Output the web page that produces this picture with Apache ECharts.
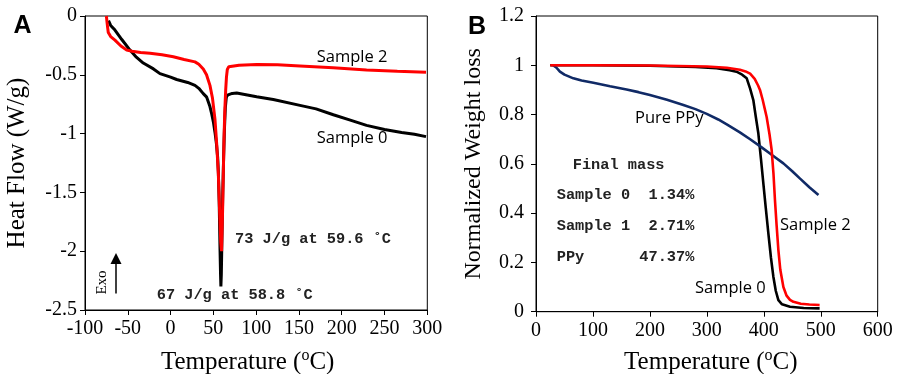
<!DOCTYPE html>
<html><head><meta charset="utf-8">
<script src="https://cdn.jsdelivr.net/npm/echarts@6/dist/echarts.min.js"></script>
<style>html,body{margin:0;padding:0;background:#fff}#c{width:899px;height:374px}</style>
</head><body><div id="c"></div>
<script>
// Panel A: DSC
const dscTemp0 = [-72.5,-70,-65,-57,-47.4,-40,-31.9,-20,-12.4,0,7.1,20,28.5,33,38.2,42.2,46,48,50,51.9,53.5,55,55.8,56.8,57.8,58.4,58.8,59.3,60,61,62,63,64,65,65.6,68,72,77.3,85,100.6,120,151.2,170,190.2,210,229,250,270,285,298.5];
const dscFlow0 = [-0.04,-0.08,-0.12,-0.2,-0.29,-0.35,-0.40,-0.45,-0.49,-0.52,-0.54,-0.565,-0.59,-0.615,-0.66,-0.69,-0.77,-0.83,-0.9,-0.99,-1.08,-1.2,-1.32,-1.58,-1.99,-2.2,-2.30,-2.2,-1.9,-1.5,-1.2,-0.95,-0.78,-0.70,-0.68,-0.668,-0.658,-0.655,-0.665,-0.686,-0.71,-0.76,-0.79,-0.84,-0.885,-0.93,-0.965,-0.99,-1.005,-1.026];
const dscTemp2 = [-75,-74.3,-73.5,-72.8,-70,-65,-58,-51.3,-45,-35,-24,-10,3.2,15.8,28.5,33,38.2,42,46,49,51.9,54,55.8,57,57.8,58.6,59.6,60.3,60.9,61.6,62.4,63.4,64.4,65.3,66.3,68,70,80,100.6,125,151.2,190,229,265,298.5];
const dscFlow2 = [0,-0.05,-0.10,-0.14,-0.175,-0.205,-0.255,-0.289,-0.30,-0.31,-0.317,-0.33,-0.346,-0.37,-0.39,-0.41,-0.45,-0.50,-0.59,-0.70,-0.88,-1.1,-1.34,-1.6,-1.76,-1.92,-2.0,-1.8,-1.62,-1.35,-1.05,-0.8,-0.63,-0.52,-0.455,-0.432,-0.425,-0.418,-0.412,-0.415,-0.425,-0.44,-0.459,-0.47,-0.479];
// Panel B: TGA
const tgaTemp0 = [25,100,200,280,317,340,352,362,370,376,381.6,386,390.4,395,399.2,403.5,408,412.5,416.8,421,425.6,432,446,470,498];
const tgaMass0 = [1.0,1.0,0.998,0.993,0.988,0.98,0.974,0.962,0.947,0.905,0.859,0.79,0.724,0.62,0.521,0.42,0.318,0.22,0.142,0.085,0.047,0.030,0.020,0.015,0.0134];
const tgaTemp2 = [25,100,200,300,335,358,368,376,384,390,393.3,398,402,405,410,413.8,417,419.6,422.5,425.6,429,434.4,440,446,452,465,480,498];
const tgaMass2 = [1.0,1.0,0.999,0.995,0.99,0.982,0.975,0.966,0.945,0.918,0.90,0.86,0.82,0.79,0.72,0.656,0.56,0.453,0.35,0.25,0.17,0.10,0.065,0.048,0.04,0.032,0.029,0.0271];
const ppyTemp = [30,36,42,50,65.6,80,100.7,130,159,180,200,230,258.8,280,299.8,320,335,358,376,395,416.8,434.4,450,463.7,480,496];
const ppyMass = [1.0,0.99,0.974,0.962,0.947,0.938,0.929,0.915,0.902,0.891,0.879,0.86,0.839,0.822,0.803,0.78,0.76,0.728,0.70,0.669,0.632,0.602,0.57,0.54,0.505,0.4737];

const zip = (xs, ys) => xs.map((x, i) => [x, ys[i]]);
const serif = 'Liberation Serif';

const xName = '{t|Temperature (}{s|o}{t|C)}';
const richName = {
  t: { fontFamily: serif, fontSize: 25, color: '#000', lineHeight: 28 },
  s: { fontFamily: serif, fontSize: 16, color: '#000', lineHeight: 17, verticalAlign: 'top' }
};
const axisCommon = {
  axisLine: { show: true, onZero: false, lineStyle: { color: '#000', width: 1 } },
  axisTick: { show: true, inside: false, length: 5, lineStyle: { color: '#000' } },
  splitLine: { show: false },
  axisLabel: { fontFamily: serif, fontSize: 20, color: '#000' }
};
const lineCommon = { type: 'line', symbol: 'none', smooth: false };

const txt = (x, y, text, font, fill, align, extra) => Object.assign({ type: 'text', x: x, y: y,
  style: { text: text, font: font, fill: fill, align: align, verticalAlign: 'middle', textAlign: align, textVerticalAlign: 'middle' } }, extra || {});

const sansF = '16.5px "Open Sans"';
const monoF = 'bold 15.3px "Liberation Mono"';

const chart = echarts.init(document.getElementById('c'), null, { renderer: 'canvas' });
chart.setOption({
  animation: false,
  backgroundColor: '#fff',
  grid: [
    { left: 85, right: 471.7, top: 16, bottom: 64, show: true, borderColor: '#000', borderWidth: 1, containLabel: false, outerBoundsMode: 'none' },
    { left: 536, right: 21.3, top: 16, bottom: 62.3, show: true, borderColor: '#000', borderWidth: 1, containLabel: false, outerBoundsMode: 'none' }
  ],
  xAxis: [
    Object.assign({}, axisCommon, { gridIndex: 0, type: 'value', min: -100, max: 300, interval: 50,
      name: xName, nameLocation: 'middle', nameGap: 38, nameTextStyle: { rich: richName, padding: [0, 17, 0, 0] },
      axisLabel: Object.assign({}, axisCommon.axisLabel, { margin: 9 }) }),
    Object.assign({}, axisCommon, { gridIndex: 1, type: 'value', min: 0, max: 600, interval: 100,
      name: xName, nameLocation: 'middle', nameGap: 36.5, nameTextStyle: { rich: richName, padding: [0, 0, 0, 8] },
      axisLabel: Object.assign({}, axisCommon.axisLabel, { margin: 9 }) })
  ],
  yAxis: [
    Object.assign({}, axisCommon, { gridIndex: 0, type: 'value', min: -2.5, max: 0, interval: 0.5,
      name: 'Heat Flow (W/g)', nameLocation: 'middle', nameGap: 55,
      nameTextStyle: { fontFamily: serif, fontSize: 25, color: '#000' },
      axisLabel: Object.assign({}, axisCommon.axisLabel, { margin: 8 }) }),
    Object.assign({}, axisCommon, { gridIndex: 1, type: 'value', min: 0, max: 1.2, interval: 0.2,
      name: 'Normalized Weight loss', nameLocation: 'middle', nameGap: 50,
      nameTextStyle: { fontFamily: serif, fontSize: 24, color: '#000' },
      axisLabel: Object.assign({}, axisCommon.axisLabel, { margin: 12 }) })
  ],
  series: [
    Object.assign({}, lineCommon, { name: 'A Sample 0', xAxisIndex: 0, yAxisIndex: 0, data: zip(dscTemp0, dscFlow0), lineStyle: { color: '#000', width: 3 } }),
    Object.assign({}, lineCommon, { name: 'A Sample 2', xAxisIndex: 0, yAxisIndex: 0, data: zip(dscTemp2, dscFlow2), lineStyle: { color: '#ff0000', width: 3 } }),
    Object.assign({}, lineCommon, { name: 'B Sample 0', xAxisIndex: 1, yAxisIndex: 1, data: zip(tgaTemp0, tgaMass0), lineStyle: { color: '#000', width: 2.6 } }),
    Object.assign({}, lineCommon, { name: 'B Pure PPy', xAxisIndex: 1, yAxisIndex: 1, data: zip(ppyTemp, ppyMass), lineStyle: { color: '#102a66', width: 2.6 } }),
    Object.assign({}, lineCommon, { name: 'B Sample 2', xAxisIndex: 1, yAxisIndex: 1, data: zip(tgaTemp2, tgaMass2), lineStyle: { color: '#ff0000', width: 2.6 } })
  ],
  graphic: [
    txt(22.5, 26.5, 'A', 'bold 25px "Liberation Sans"', '#000', 'center'),
    txt(477, 26.7, 'B', 'bold 25px "Liberation Sans"', '#000', 'center'),
    txt(316.7, 57, 'Sample 2', sansF, '#000', 'left'),
    txt(316.7, 138, 'Sample 0', sansF, '#000', 'left'),
    txt(235, 239.5, '73 J/g at 59.6 ˚C', monoF, '#222', 'left'),
    txt(156.7, 295, '67 J/g at 58.8 ˚C', monoF, '#222', 'left'),
    txt(102, 282.5, 'Exo', '15px "Liberation Serif"', '#000', 'center', { rotation: Math.PI / 2 }),
    { type: 'line', shape: { x1: 116, y1: 293.5, x2: 116, y2: 262 }, style: { stroke: '#000', lineWidth: 1.5 } },
    { type: 'polygon', shape: { points: [[116, 253], [110.5, 264], [121.5, 264]] }, style: { fill: '#000' } },
    txt(635, 118, 'Pure PPy', sansF, '#000', 'left'),
    txt(572.7, 165, 'Final mass', monoF, '#222', 'left'),
    txt(556.7, 195, 'Sample 0  1.34%', monoF, '#222', 'left'),
    txt(556.7, 226, 'Sample 1  2.71%', monoF, '#222', 'left'),
    txt(556.7, 257, 'PPy      47.37%', monoF, '#222', 'left'),
    txt(780, 225, 'Sample 2', sansF, '#000', 'left'),
    txt(695, 288, 'Sample 0', sansF, '#000', 'left')
  ]
});
</script>
</body></html>
